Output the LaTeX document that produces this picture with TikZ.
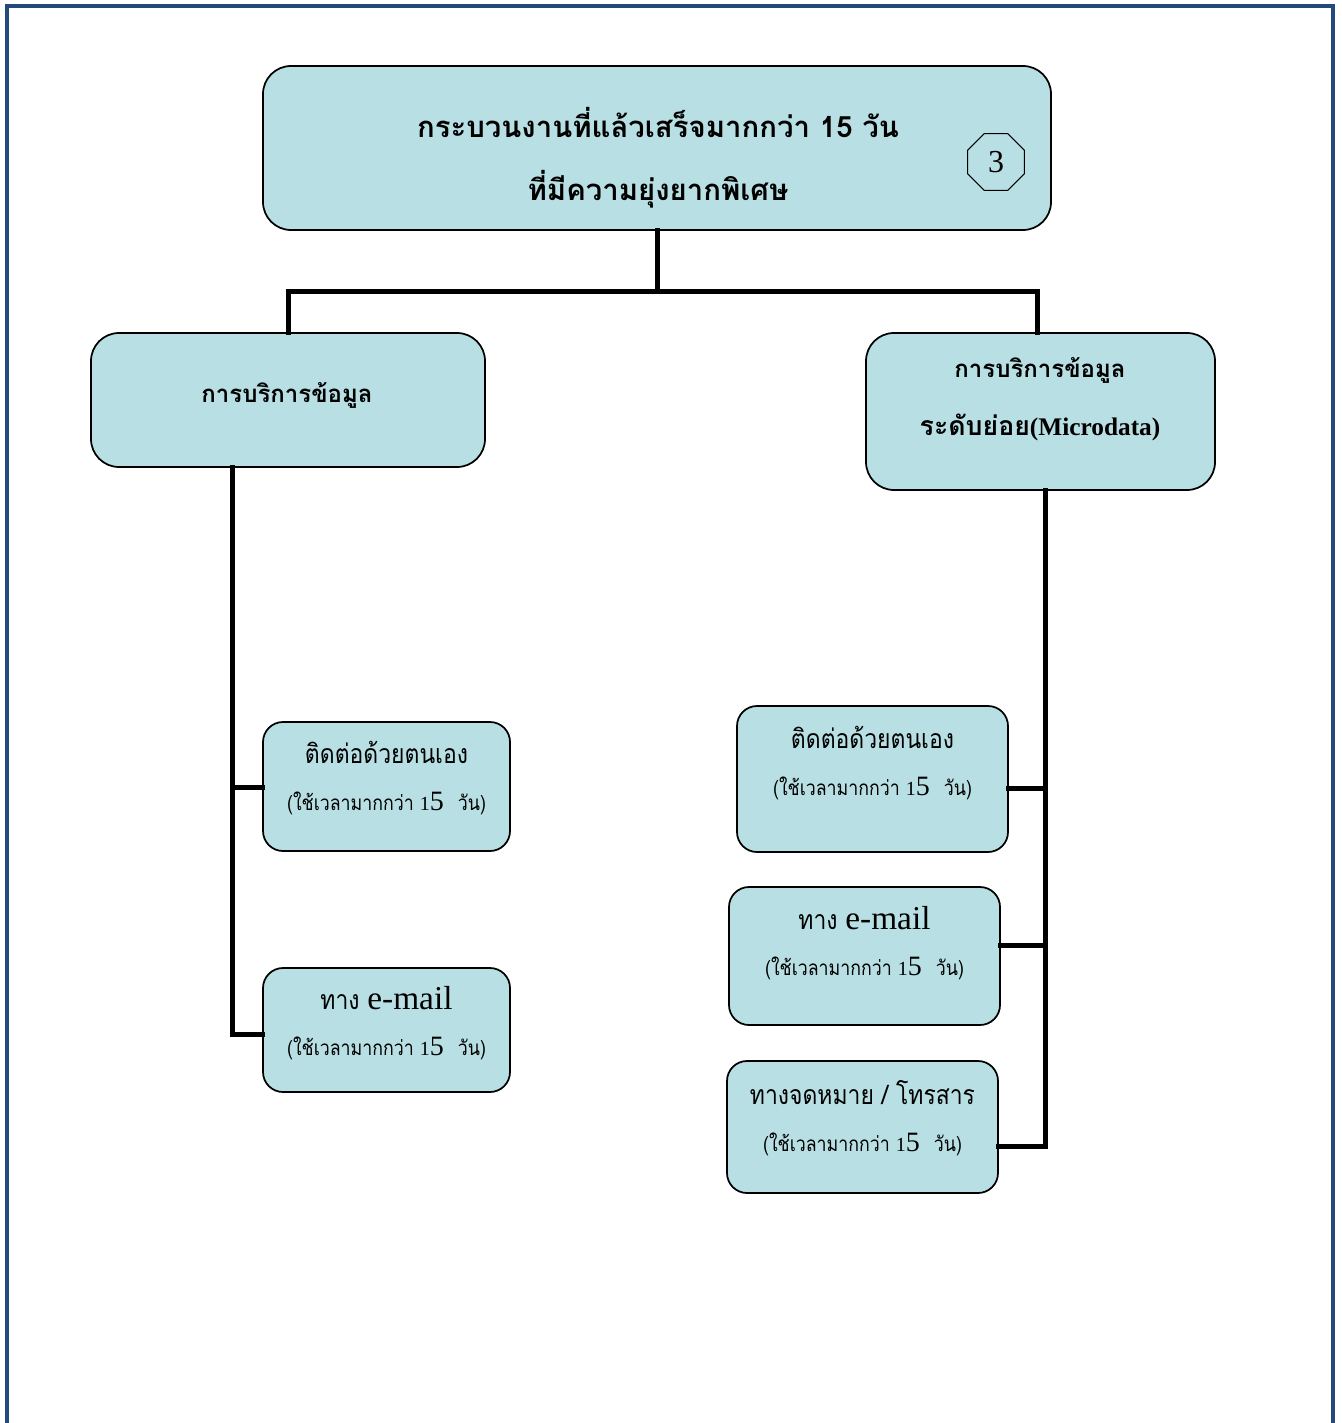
\documentclass[tikz,border=0pt]{standalone}
\usepackage{fontspec}
\setmainfont{Liberation Serif}
\newfontfamily\thaifont[Script=Thai]{Loma}
\newfontfamily\thainarrow[Script=Thai, FakeStretch=0.86]{Loma}
\usetikzlibrary{shapes.geometric}

\definecolor{boxfill}{RGB}{184,223,227}
\definecolor{framecol}{RGB}{35,73,125}

\tikzstyle{line} = [draw, line width=3.75pt, line cap=rect, line join=miter]
\tikzstyle{box} = [draw, fill=boxfill, line width=1.3pt, inner sep=0pt]
\tikzstyle{headbox} = [box, rounded corners=21pt]
\tikzstyle{subbox} = [box, rounded corners=15pt]
\tikzstyle{headtext} = [align=center, inner sep=0pt, font=\thaifont\bfseries]
\tikzstyle{subtext} = [align=center, inner sep=0pt, font=\thainarrow\fontsize{20}{35}\selectfont]

\newcommand{\fifteen}{\normalfont\fontsize{15}{15}\selectfont 1{\fontsize{21}{21}\selectfont 5}\hspace{0.7em}}
\newcommand{\daysmore}{{\thainarrow\fontsize{15.5}{15}\selectfont(ใช้เวลามากกว่า \fifteen\thainarrow\fontsize{15.5}{15}\selectfont วัน)}}

\begin{document}
\begin{tikzpicture}[x=0.75pt, y=-0.75pt]
	\useasboundingbox (0,0) rectangle (1341,1423);
	
	\draw[framecol, line width=2.4pt] (7,1430) -- (7,6) -- (1333,6) -- (1333,1430); % frame
	
	% top box
	\node[headbox, minimum width=591pt, minimum height=123pt] (top) at (657,148) {};
	\node[headtext, font=\thaifont\bfseries\fontsize{22}{47}\selectfont] (top-txt) at (658,158) {กระบวนงานที่แล้วเสร็จมากกว่า 15 วัน\\ที่มีความยุ่งยากพิเศษ};
	\node[draw, regular polygon, regular polygon sides=8, minimum size=46pt, inner sep=0pt, line width=0.8pt, font=\fontsize{24}{24}\selectfont] (num) at (996,162) {3};
	
	% second row
	\node[headbox, minimum width=295.5pt, minimum height=100.5pt] (lbox) at (288,400) {};
	\node[headtext, font=\thaifont\bfseries\fontsize{18}{18}\selectfont] (lbox-txt) at (287,395) {การบริการข้อมูล};
	\node[headbox, minimum width=261.75pt, minimum height=117.75pt] (rbox) at (1040.5,411.5) {};
	\node[headtext, font=\thaifont\bfseries\fontsize{18}{43.5}\selectfont] (rbox-txt) at (1040,399) {การบริการข้อมูล\\{\fontsize{20}{20}\selectfont ระดับย่อย}{\normalfont\bfseries\fontsize{19}{19}\selectfont(Microdata)}};
	
	% left side
	\node[subbox, minimum width=185.25pt, minimum height=96.75pt] (lc1) at (386.5,786.5) {};
	\node[subtext] (lc1-txt) at (386.5,778) {ติดต่อด้วยตนเอง\\\daysmore};
	\node[subbox, minimum width=185.25pt, minimum height=93pt] (lc2) at (386.5,1030) {};
	\node[subtext] (lc2-txt) at (386.5,1023) {ทาง {\normalfont\fontsize{25}{25}\selectfont e-mail}\\\daysmore};
	
	% right side
	\node[subbox, minimum width=203.25pt, minimum height=109.5pt] (rc1) at (872.5,779) {};
	\node[subtext] (rc1-txt) at (872.5,763) {ติดต่อด้วยตนเอง\\\daysmore};
	\node[subbox, minimum width=203.25pt, minimum height=103.5pt] (rc2) at (864.5,956) {};
	\node[subtext] (rc2-txt) at (864.5,943) {ทาง {\normalfont\fontsize{25}{25}\selectfont e-mail}\\\daysmore};
	\node[subbox, minimum width=203.25pt, minimum height=99pt] (rc3) at (862.5,1127) {};
	\node[subtext] (rc3-txt) at (862.5,1118) {ทางจดหมาย / โทรสาร\\\daysmore};
	
	% connectors
	\coordinate (split) at (657,291);
	\coordinate (ltop) at ([xshift=-42pt]lbox.south);
	\coordinate (rtop) at ([xshift=3.4pt]rbox.south);
	
	\draw[line] (top.south) -- (split);
	\draw[line] (lbox.north) |- (split) -| ([xshift=-2.6pt]rbox.north);
	
	\draw[line] (ltop) |- ([yshift=-3pt]lc2.west);
	\draw[line] ([yshift=-1pt]lc1.west) -- ([yshift=-1pt]lc1.west -| ltop);
	
	\draw[line] (rtop) |- ([yshift=-14.25pt]rc3.east);
	\draw[line] ([yshift=-6.75pt]rc1.east) -- ([yshift=-6.75pt]rc1.east -| rtop);
	\draw[line] ([yshift=8.25pt]rc2.east) -- ([yshift=8.25pt]rc2.east -| rtop);
	
\end{tikzpicture}
\end{document}
